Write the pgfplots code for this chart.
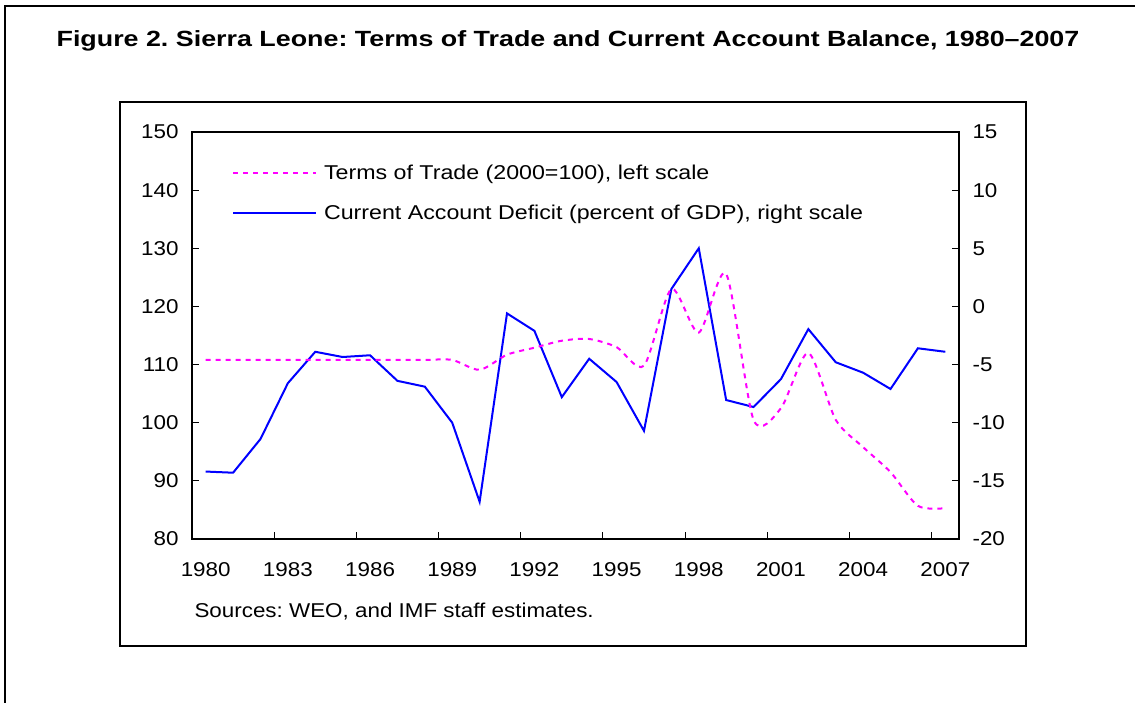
\documentclass[border=0pt]{standalone}
\usepackage{pgfplots}
\pgfplotsset{compat=1.18}
\usepackage{fontspec}
\setmainfont{Liberation Sans}[FakeStretch=1.12]
\newfontfamily\titlefont{Liberation Sans}[FakeStretch=1.22]
\newfontfamily\legendfont{Liberation Sans}[FakeStretch=1.16]
\frenchspacing

\definecolor{totmag}{RGB}{255,0,255}
\definecolor{cablue}{RGB}{0,0,255}

\pgfplotstableread{
year ca
1980 -14.2
1981 -14.3
1982 -11.4
1983 -6.6
1984 -3.9
1985 -4.35
1986 -4.2
1987 -6.4
1988 -6.9
1989 -10.0
1990 -16.8
1991 -0.6
1992 -2.1
1993 -7.8
1994 -4.5
1995 -6.5
1996 -10.7
1997 1.5
1998 5.0
1999 -8.05
2000 -8.65
2001 -6.25
2002 -1.95
2003 -4.8
2004 -5.7
2005 -7.1
2006 -3.6
2007 -3.9
}\cadata

\pgfplotstableread{
year tot
1980 110.8
1981 110.8
1982 110.8
1983 110.8
1984 110.8
1985 110.8
1986 110.8
1987 110.8
1988 110.8
1989 110.8
1990 109.1
1991 111.7
1992 112.9
1993 114.1
1994 114.4
1995 113.0
1996 109.8
1997 123.0
1998 115.5
1999 125.6
2000 100.5
2001 102.5
2002 112.0
2003 100.5
2004 95.8
2005 91.5
2006 85.7
2007 85.3
}\totdata

\newcommand{\tickfont}{\fontsize{20}{23}\selectfont}

\pgfplotsset{
  sierra/.style={
    at={(192pt,163pt)}, anchor=south west,
    scale only axis, width=767pt, height=407pt,
    xmin=1979.5, xmax=2007.5,
    axis line style={line width=1.4pt},
    tick style={black, line width=1pt},
    tick align=inside,
    major tick length=7pt, minor tick length=7pt,
    tick label style={font=\tickfont},
    /pgf/number format/assume math mode=true,
  }
}

\begin{document}
\begin{tikzpicture}[x=1pt,y=1pt]
\path[use as bounding box] (0,0) rectangle (1135,702);
% outer frame, only top and left visible
\draw[line width=2.5pt] (5,-5) -- (5,696) -- (1140,696);
\node[anchor=base, font=\fontsize{22}{26}\selectfont\titlefont\bfseries] at (568,655)
  {Figure 2. Sierra Leone: Terms of Trade and Current Account Balance, 1980\textendash 2007};
% inner frame
\draw[line width=2pt] (120,600) rectangle (1026,56);

% right scale: current account
\begin{axis}[sierra,
  axis x line=none, axis y line*=right,
  ymin=-20, ymax=15, ytick={-20,-15,...,15},
  yticklabel style={xshift=10pt},
]
\addplot[cablue, line width=2pt] table[x=year, y=ca] {\cadata};
\end{axis}

% left scale: terms of trade
\begin{axis}[sierra,
  ymin=80, ymax=150, ytick={80,90,...,150},
  ytick pos=left, xtick pos=bottom,
  xtick={1980,1983,...,2007},
  minor xtick={1982.5,1985.5,...,2006.5},
  major x tick style={draw=none},
  xticklabel style={/pgf/number format/1000 sep=, yshift=-20pt},
  yticklabel style={xshift=-10pt},
  legend style={at={(0.052,0.925)}, anchor=north west, draw=none, fill=none,
    inner sep=0pt, font=\tickfont\legendfont, row sep=20pt,
    /tikz/every odd column/.style={column sep=5pt}},
  legend cell align=left,
  legend image code/.code={\draw[#1] (0pt,0pt) -- (83pt,0pt);},
]
\addplot[totmag, line width=2pt, dash pattern=on 5pt off 5pt, smooth, tension=0.45]
  table[x=year, y=tot] {\totdata};
\addlegendentry{Terms of Trade (2000=100), left scale}
\addlegendimage{cablue, line width=2pt}
\addlegendentry{Current Account Deficit (percent of GDP), right scale}
\end{axis}

\node[anchor=base west, font=\tickfont] at (191,85) {Sources: WEO, and IMF staff estimates.};
\end{tikzpicture}
\end{document}
